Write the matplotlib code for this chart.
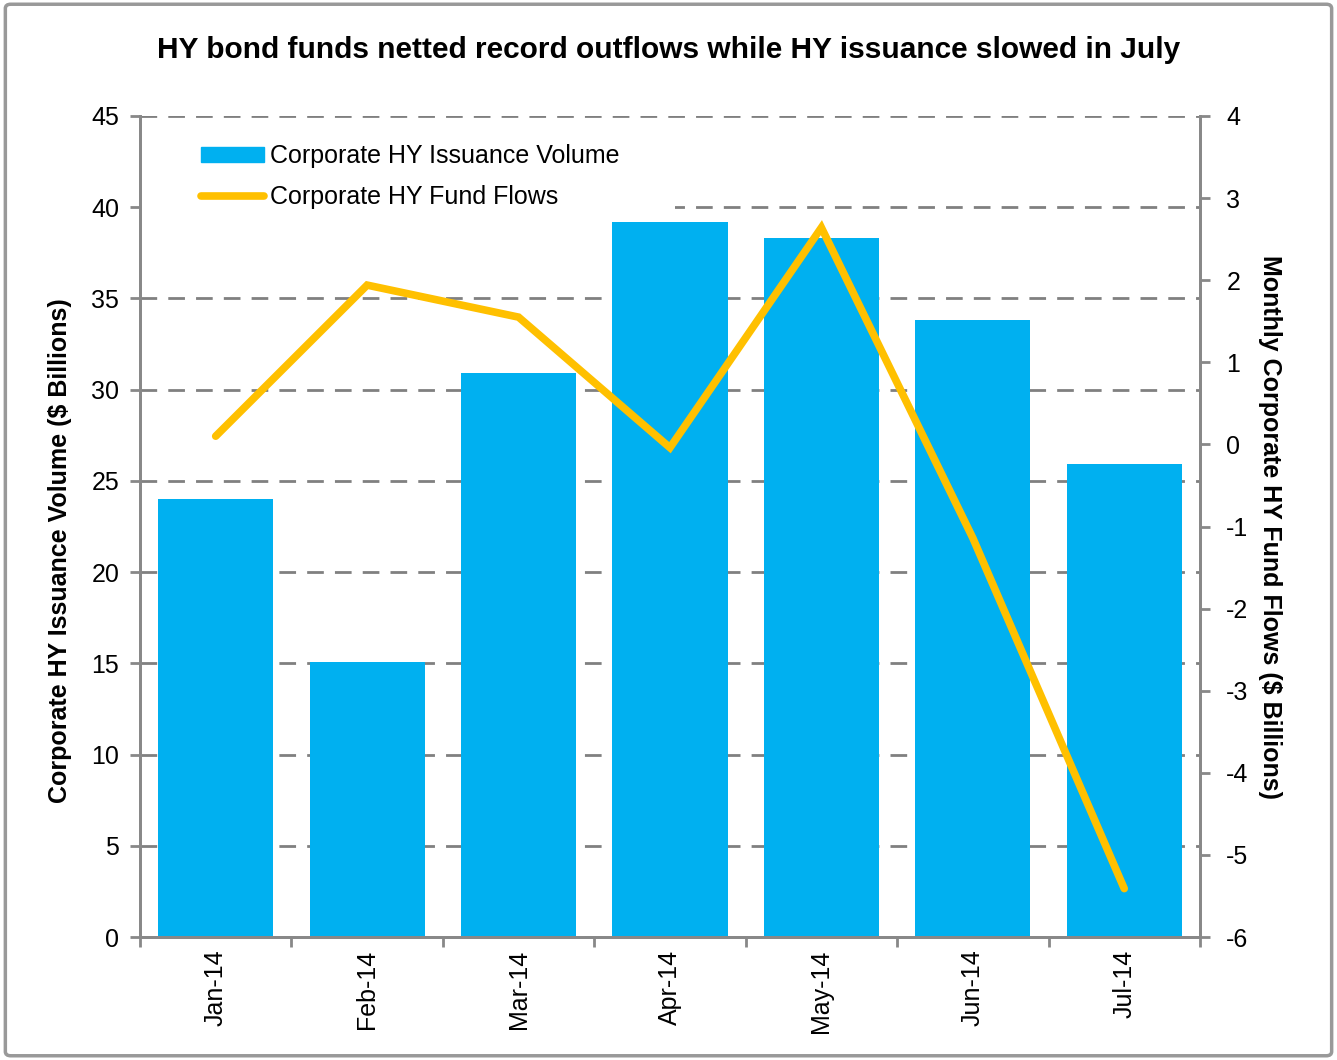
import numpy as np
import matplotlib.pyplot as plt
from matplotlib.patches import FancyBboxPatch, Rectangle, Patch
from matplotlib.lines import Line2D

plt.rcParams['font.family'] = ['Liberation Sans', 'DejaVu Sans']
plt.rcParams['axes.unicode_minus'] = False

months = ['Jan-14', 'Feb-14', 'Mar-14', 'Apr-14', 'May-14', 'Jun-14', 'Jul-14']
issuance = [24.0, 15.1, 30.9, 39.2, 38.3, 33.8, 25.9]
flows = [0.1, 1.94, 1.55, -0.04, 2.64, -1.14, -5.41]

grey = '#888888'
fig = plt.figure(figsize=(13.37, 10.6), dpi=100)
ax = fig.add_axes([0.1047, 0.116, 0.7928, 0.7746])
x = np.arange(len(months))
ax.bar(x, issuance, width=0.76, color='#00B0F0', zorder=2)
ax.set_xlim(-0.5, len(months) - 0.5)
ax.set_ylim(0, 45)
ax.set_yticks(np.arange(0, 46, 5))
ax.yaxis.grid(True, linestyle=(0, (6, 4)), color='#808080', linewidth=2, zorder=0)
ax.set_axisbelow(True)
ax.set_xticks(x)
ax.set_xticklabels(months, rotation=90, fontsize=18)
ax.set_xticks(np.arange(-0.5, len(months)), minor=True)
ax.tick_params(axis='x', which='major', length=0, pad=9)
ax.tick_params(axis='x', which='minor', length=7, width=2, color=grey, direction='out')
ax.tick_params(axis='y', labelsize=18, length=7, width=2, color=grey, pad=8)
ax.set_ylabel('Corporate HY Issuance Volume ($ Billions)', fontsize=18, fontweight='bold', labelpad=14)
ax.yaxis.label.set_y(0.471)
for s in ['left', 'bottom', 'right']:
    ax.spines[s].set_color(grey)
    ax.spines[s].set_linewidth(2)
ax.spines['top'].set_visible(False)

# white box behind the legend hides the gridline there
ax.add_patch(Rectangle((0.0, 0.84), 0.505, 0.14, transform=ax.transAxes,
                       facecolor='white', edgecolor='none', zorder=1))

ax2 = ax.twinx()
ax2.plot(x, flows, color='#FFC000', linewidth=5.5, solid_capstyle='round', solid_joinstyle='miter', zorder=3)
ax2.set_ylim(-6, 4)
ax2.set_yticks(np.arange(-6, 5, 1))
ax2.tick_params(axis='y', labelsize=18, length=7, width=2, color=grey, pad=12)
ax2.set_ylabel('Monthly Corporate HY Fund Flows ($ Billions)', fontsize=18, fontweight='bold',
               rotation=270, labelpad=24)
for s in ['left', 'bottom', 'right']:
    ax2.spines[s].set_color(grey)
    ax2.spines[s].set_linewidth(2)
ax2.spines['top'].set_visible(False)

handles = [Patch(color='#00B0F0'), Line2D([], [], color='#FFC000', linewidth=5.5, solid_capstyle='round')]
leg = ax2.legend(handles, ['Corporate HY Issuance Volume', 'Corporate HY Fund Flows'],
                 loc='upper left', bbox_to_anchor=(0.058, 0.966), fontsize=18, frameon=False,
                 handlelength=2.5, handleheight=0.55, handletextpad=0.25, labelspacing=0.68,
                 borderpad=0, borderaxespad=0)

fig.text(0.5, 0.953, 'HY bond funds netted record outflows while HY issuance slowed in July',
         fontsize=21.5, fontweight='bold', ha='center', va='center')

border = FancyBboxPatch((0.004, 0.004), 0.992, 0.992, boxstyle='round,pad=0,rounding_size=0.004',
                        transform=fig.transFigure, fill=False, edgecolor='#999999', linewidth=2.5)
fig.patches.append(border)

fig.savefig('out.png', dpi=100)
